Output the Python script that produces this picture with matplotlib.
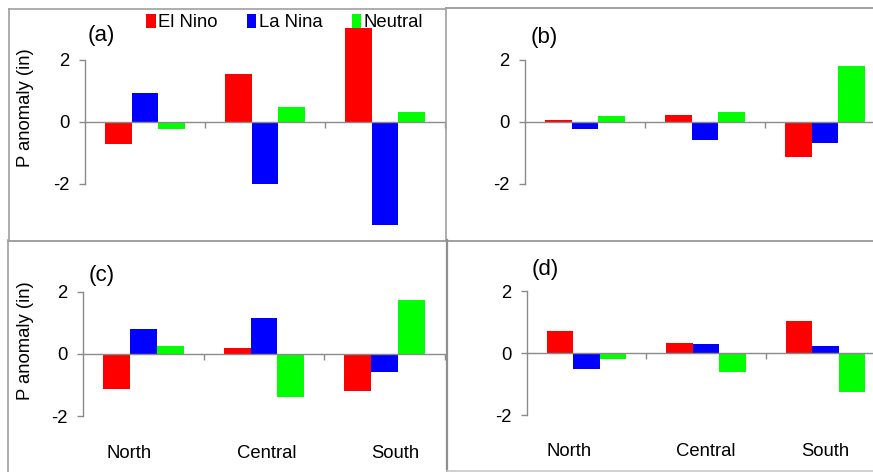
import matplotlib
matplotlib.use('Agg')
import matplotlib.pyplot as plt
from matplotlib.patches import Patch
from matplotlib.lines import Line2D
import numpy as np

plt.rcParams['font.family'] = ['Liberation Sans', 'DejaVu Sans']

# ---------------- data ----------------
regions = ['North', 'Central', 'South']
phases = ['El Nino', 'La Nina', 'Neutral']
colors = ['#FF0000', '#0000FF', '#00FF00']

a_elnino = [-0.71, 1.54, 3.02]
a_lanina = [0.95, -2.00, -3.33]
a_neutral = [-0.22, 0.47, 0.31]

b_elnino = [0.05, 0.24, -1.13]
b_lanina = [-0.24, -0.57, -0.68]
b_neutral = [0.19, 0.32, 1.80]

c_elnino = [-1.12, 0.18, -1.18]
c_lanina = [0.81, 1.14, -0.57]
c_neutral = [0.27, -1.37, 1.72]

d_elnino = [0.70, 0.32, 1.04]
d_lanina = [-0.51, 0.29, 0.22]
d_neutral = [-0.18, -0.60, -1.26]

yticks = [-2, 0, 2]
ytick_labels = ['-2', '0', '2']
panel_tags = ['(a)', '(b)', '(c)', '(d)']
ylabel = 'P anomaly (in)'

# ---------------- figure ----------------
W, H = 873, 472
fig = plt.figure(figsize=(W / 100, H / 100), dpi=100)
GRAY = '#8a8a8a'
FS = 13.3
TAGFS = 16


def add_px_axes(left, zero_y, width, scale, ylim=(-3.5, 3.5)):
    height = (ylim[1] - ylim[0]) * scale
    top = zero_y - ylim[1] * scale
    ax = fig.add_axes([left / W, 1 - (top + height) / H, width / W, height / H])
    ax.set_ylim(*ylim)
    return ax


def style(ax, series, show_labels, label_x):
    ax.set_xlim(0, 3)
    ax.patch.set_alpha(0)
    for s in ['top', 'right']:
        ax.spines[s].set_visible(False)
    ax.spines['left'].set_bounds(-2, 2)
    ax.spines['bottom'].set_position(('data', 0))
    for s in ['left', 'bottom']:
        ax.spines[s].set_color(GRAY)
        ax.spines[s].set_linewidth(1.0)
    ax.set_yticks(yticks)
    ax.set_yticklabels(ytick_labels)
    ax.tick_params(axis='y', direction='out', length=4, width=1, color=GRAY,
                   pad=7, labelsize=FS)
    ax.set_xticks([1, 2, 3])
    ax.set_xticklabels([])
    ax.tick_params(axis='x', direction='out', length=4, width=1, color=GRAY)
    x = np.arange(len(regions)) + 0.5
    w = 1 / 4.5
    for i, (vals, col) in enumerate(zip(series, colors)):
        ax.bar(x + (i - 1) * w, vals, width=w, color=col, edgecolor='none',
               label=phases[i], zorder=1)
    if show_labels:
        for xx, name in zip(label_x, regions):
            ax.text(xx, -3.19, name, ha='center', va='center', fontsize=FS,
                    clip_on=False)


ax_a = add_px_axes(85, 122, 360, 31)
ax_b = add_px_axes(525, 122, 360, 31)
ax_c = add_px_axes(83, 354, 362, 31.2)
ax_d = add_px_axes(527, 353, 358, 31)

style(ax_a, [a_elnino, a_lanina, a_neutral], False, None)
style(ax_b, [b_elnino, b_lanina, b_neutral], False, None)
style(ax_c, [c_elnino, c_lanina, c_neutral], True, [0.38, 1.52, 2.59])
style(ax_d, [d_elnino, d_lanina, d_neutral], True, [0.35, 1.5, 2.5])


def ftext(px, py, s, **kw):
    fig.text(px / W, 1 - py / H, s, **kw)


# panel tags
ftext(88, 36, panel_tags[0], fontsize=TAGFS, ha='left', va='center')
ftext(531, 38, panel_tags[1], fontsize=TAGFS, ha='left', va='center')
ftext(89, 275, panel_tags[2], fontsize=TAGFS, ha='left', va='center')
ftext(532, 270, panel_tags[3], fontsize=TAGFS, ha='left', va='center')

# y labels
ftext(25, 108, ylabel, rotation=90, fontsize=FS, ha='center', va='center')
ftext(25, 341, ylabel, rotation=90, fontsize=FS, ha='center', va='center')

# legend
handles = [Patch(facecolor=c, edgecolor='none') for c in colors]
fig.legend(handles, phases, loc='upper left', bbox_to_anchor=(146 / W, 1 - 14 / H),
           ncol=3, frameon=False, fontsize=FS, handlelength=0.52, handleheight=0.75,
           handletextpad=0.12, columnspacing=1.6, borderpad=0, borderaxespad=0)


# panel borders
def fline(x0, y0, x1, y1, color='#a0a0a0', lw=1.2):
    fig.add_artist(Line2D([x0 / W, x1 / W], [1 - y0 / H, 1 - y1 / H],
                          color=color, lw=lw, transform=fig.transFigure))


fline(9, 9, 446, 9)
fline(9, 9, 9, 240)
fline(446, 8, 873, 8, color='#909090')
fline(446, 8, 446, 240)
fline(8, 240.5, 873, 240.5, color='#909090')
fline(8, 240, 8, 472)
fline(447, 240, 447, 472, color='#909090', lw=1.6)
fline(447, 470.5, 873, 470.5, color='#c8c8c8')

fig.savefig('out.png', dpi=100)
